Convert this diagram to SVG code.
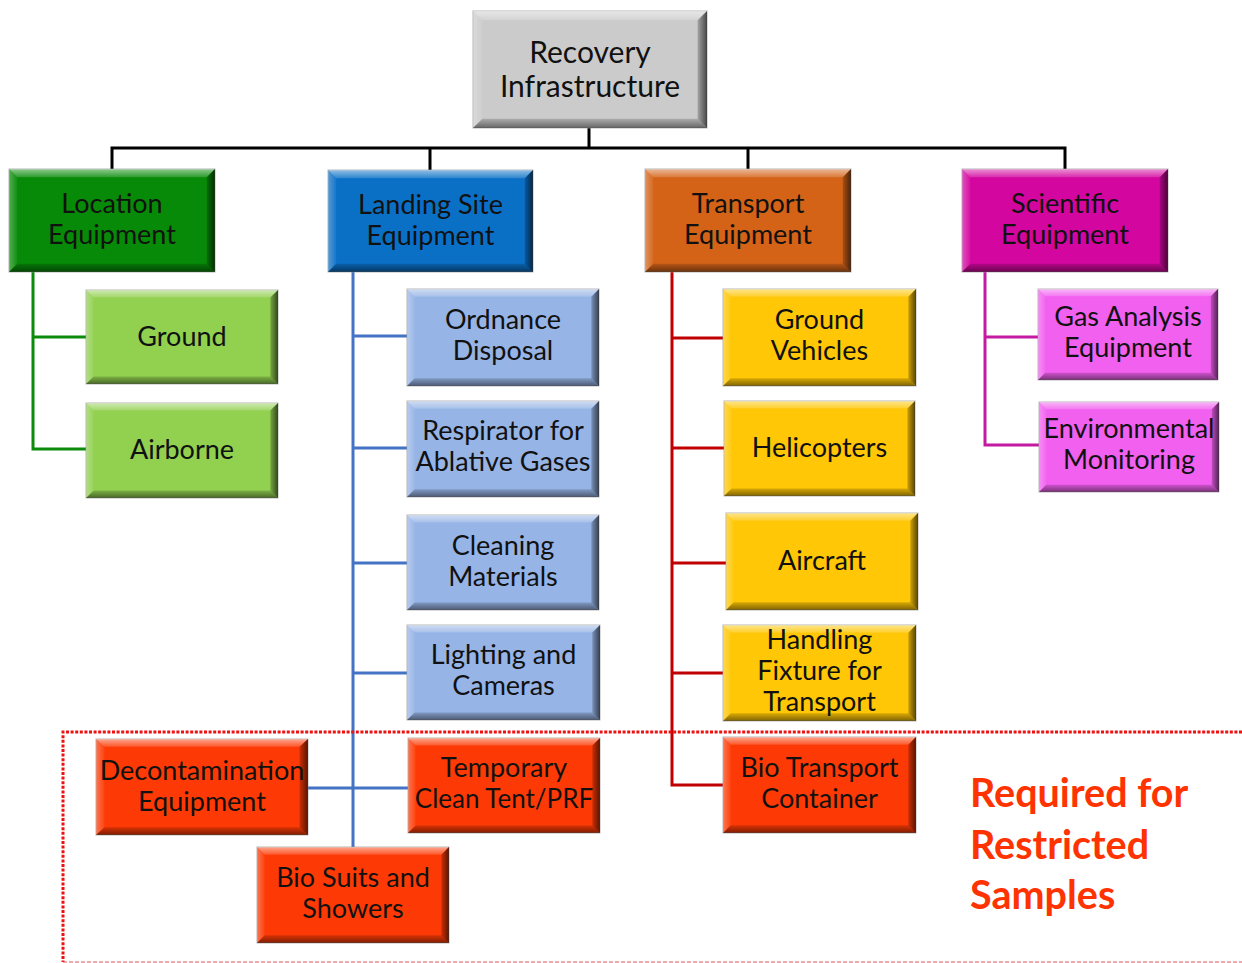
<svg xmlns="http://www.w3.org/2000/svg" xmlns:xlink="http://www.w3.org/1999/xlink" width="1242" height="963" viewBox="0 0 1242 963">
  <style>
    .t { font-family: Lato, "Liberation Sans", sans-serif; font-size: 27px; fill: #111; text-anchor: middle; }
    .rt { font-size: 30px; }
    .base { stroke: #9a9a9a; stroke-width: 1; stroke-opacity: 0.7; }
    .link { fill: none; stroke-width: 3; stroke-linecap: square; }
    .k { stroke: #000; }
    .g { stroke: #0b8a0b; }
    .b { stroke: #4472c4; }
    .r { stroke: #c00000; }
    .m { stroke: #c41aa2; }
    .note { font-family: Lato, "Liberation Sans", sans-serif; font-weight: bold; font-size: 39.5px; fill: #ff3300; }
  </style>
  <defs>
    <linearGradient id="topBand" x1="0" y1="0" x2="0" y2="1">
      <stop offset="0" stop-color="#fff" stop-opacity="0.55"/>
      <stop offset="1" stop-color="#fff" stop-opacity="0.15"/>
    </linearGradient>
    <linearGradient id="leftBand" x1="0" y1="0" x2="1" y2="0">
      <stop offset="0" stop-color="#fff" stop-opacity="0.3"/>
      <stop offset="1" stop-color="#fff" stop-opacity="0.05"/>
    </linearGradient>
    <linearGradient id="rightBand" x1="0" y1="0" x2="1" y2="0">
      <stop offset="0" stop-color="#000" stop-opacity="0.2"/>
      <stop offset="1" stop-color="#000" stop-opacity="0.65"/>
    </linearGradient>
    <linearGradient id="bottomBand" x1="0" y1="0" x2="0" y2="1">
      <stop offset="0" stop-color="#000" stop-opacity="0.15"/>
      <stop offset="1" stop-color="#000" stop-opacity="0.5"/>
    </linearGradient>
    <!-- bevel overlay, stretched over each box -->
    <symbol id="bevel" viewBox="0 0 200 100" preserveAspectRatio="none">
      <polygon points="0,0 200,0 192,8 8,8" fill="url(#topBand)"/>
      <polygon points="0,0 8,8 8,92 0,100" fill="url(#leftBand)"/>
      <polygon points="200,0 200,100 192,92 192,8" fill="url(#rightBand)"/>
      <polygon points="0,100 8,92 192,92 200,100" fill="url(#bottomBand)"/>
    </symbol>
  </defs>

  <rect width="1242" height="963" fill="#fff"/>

  <!-- connectors -->
  <g id="connectors">
    <path class="link k" d="M589,128 V148 M112,148 H1065 M112,148 V169 M430,148 V170 M748,148 V169 M1065,148 V169"/>
    <path class="link g" d="M33,272 V449 H86 M33,337 H86"/>
    <path class="link b" d="M353,272 V847 M353,336 H407 M353,448 H407 M353,563 H407 M353,673 H407 M308,788 H408"/>
    <path class="link r" d="M672,272 V785 H723 M672,338 H723 M672,448 H724 M672,563 H726 M672,673 H723"/>
    <path class="link m" d="M985,272 V445 H1039 M985,337 H1038"/>
  </g>

  <!-- restricted-samples zone -->
  <g id="restricted-zone">
    <path d="M1242,732 H63 V962" fill="none" stroke="#ee1111" stroke-width="3" stroke-dasharray="3 1.6"/>
    <path d="M63,962 H1242" fill="none" stroke="#d04848" stroke-width="1.5" stroke-opacity="0.6" stroke-dasharray="4 2"/>
    <text class="note" x="970" y="807">Required for</text>
    <text class="note" x="970" y="859">Restricted</text>
    <text class="note" x="970" y="909">Samples</text>
  </g>

  <!-- root -->
  <g id="recovery-infrastructure">
    <rect class="base" x="473" y="11" width="234" height="117" fill="#cbcbcb"/>
    <use xlink:href="#bevel" x="473" y="11" width="234" height="117"/>
    <text class="t rt" x="590" y="63">Recovery</text>
    <text class="t rt" x="590" y="97">Infrastructure</text>
  </g>

  <!-- first level -->
  <g id="location-equipment">
    <rect class="base" x="9" y="169" width="206" height="103" fill="#078a07"/>
    <use xlink:href="#bevel" x="9" y="169" width="206" height="103"/>
    <text class="t" x="112" y="213">Location</text>
    <text class="t" x="112" y="244">Equipment</text>
  </g>
  <g id="landing-site-equipment">
    <rect class="base" x="328" y="170" width="205" height="102" fill="#0a70c6"/>
    <use xlink:href="#bevel" x="328" y="170" width="205" height="102"/>
    <text class="t" x="430.5" y="214">Landing Site</text>
    <text class="t" x="430.5" y="245">Equipment</text>
  </g>
  <g id="transport-equipment">
    <rect class="base" x="645" y="169" width="206" height="103" fill="#d46318"/>
    <use xlink:href="#bevel" x="645" y="169" width="206" height="103"/>
    <text class="t" x="748" y="213">Transport</text>
    <text class="t" x="748" y="244">Equipment</text>
  </g>
  <g id="scientific-equipment">
    <rect class="base" x="962" y="169" width="206" height="103" fill="#d3069f"/>
    <use xlink:href="#bevel" x="962" y="169" width="206" height="103"/>
    <text class="t" x="1065" y="213">Scientific</text>
    <text class="t" x="1065" y="244">Equipment</text>
  </g>

  <!-- location equipment -->
  <g id="ground">
    <rect class="base" x="86" y="290" width="192" height="94" fill="#92d050"/>
    <use xlink:href="#bevel" x="86" y="290" width="192" height="94"/>
    <text class="t" x="182" y="346">Ground</text>
  </g>
  <g id="airborne">
    <rect class="base" x="86" y="403" width="192" height="95" fill="#92d050"/>
    <use xlink:href="#bevel" x="86" y="403" width="192" height="95"/>
    <text class="t" x="182" y="459">Airborne</text>
  </g>

  <!-- landing site equipment -->
  <g id="ordnance-disposal">
    <rect class="base" x="407" y="289" width="192" height="97" fill="#97b4e6"/>
    <use xlink:href="#bevel" x="407" y="289" width="192" height="97"/>
    <text class="t" x="503" y="329">Ordnance</text>
    <text class="t" x="503" y="360">Disposal</text>
  </g>
  <g id="respirator">
    <rect class="base" x="407" y="401" width="192" height="96" fill="#97b4e6"/>
    <use xlink:href="#bevel" x="407" y="401" width="192" height="96"/>
    <text class="t" x="503" y="440">Respirator for</text>
    <text class="t" x="503" y="471">Ablative Gases</text>
  </g>
  <g id="cleaning-materials">
    <rect class="base" x="407" y="515" width="192" height="95" fill="#97b4e6"/>
    <use xlink:href="#bevel" x="407" y="515" width="192" height="95"/>
    <text class="t" x="503" y="555">Cleaning</text>
    <text class="t" x="503" y="586">Materials</text>
  </g>
  <g id="lighting-cameras">
    <rect class="base" x="407" y="625" width="193" height="95" fill="#97b4e6"/>
    <use xlink:href="#bevel" x="407" y="625" width="193" height="95"/>
    <text class="t" x="503.5" y="664">Lighting and</text>
    <text class="t" x="503.5" y="695">Cameras</text>
  </g>
  <g id="temporary-clean-tent">
    <rect class="base" x="408" y="738" width="192" height="95" fill="#fd3a05"/>
    <use xlink:href="#bevel" x="408" y="738" width="192" height="95"/>
    <text class="t" x="504" y="777">Temporary</text>
    <text class="t" x="504" y="808" style="font-size:26px">Clean Tent/PRF</text>
  </g>
  <g id="decontamination-equipment">
    <rect class="base" x="96" y="739" width="212" height="96" fill="#fd3a05"/>
    <use xlink:href="#bevel" x="96" y="739" width="212" height="96"/>
    <text class="t" x="202" y="780">Decontamination</text>
    <text class="t" x="202" y="811">Equipment</text>
  </g>
  <g id="bio-suits">
    <rect class="base" x="257" y="847" width="192" height="96" fill="#fd3a05"/>
    <use xlink:href="#bevel" x="257" y="847" width="192" height="96"/>
    <text class="t" x="353" y="887">Bio Suits and</text>
    <text class="t" x="353" y="918">Showers</text>
  </g>

  <!-- transport equipment -->
  <g id="ground-vehicles">
    <rect class="base" x="723" y="289" width="193" height="97" fill="#ffc705"/>
    <use xlink:href="#bevel" x="723" y="289" width="193" height="97"/>
    <text class="t" x="819.5" y="329">Ground</text>
    <text class="t" x="819.5" y="360">Vehicles</text>
  </g>
  <g id="helicopters">
    <rect class="base" x="724" y="401" width="191" height="95" fill="#ffc705"/>
    <use xlink:href="#bevel" x="724" y="401" width="191" height="95"/>
    <text class="t" x="819.5" y="457">Helicopters</text>
  </g>
  <g id="aircraft">
    <rect class="base" x="726" y="513" width="192" height="97" fill="#ffc705"/>
    <use xlink:href="#bevel" x="726" y="513" width="192" height="97"/>
    <text class="t" x="822" y="570">Aircraft</text>
  </g>
  <g id="handling-fixture">
    <rect class="base" x="723" y="625" width="193" height="96" fill="#ffc705"/>
    <use xlink:href="#bevel" x="723" y="625" width="193" height="96"/>
    <text class="t" x="819.5" y="649">Handling</text>
    <text class="t" x="819.5" y="680">Fixture for</text>
    <text class="t" x="819.5" y="711">Transport</text>
  </g>
  <g id="bio-transport-container">
    <rect class="base" x="723" y="737" width="193" height="96" fill="#fd3a05"/>
    <use xlink:href="#bevel" x="723" y="737" width="193" height="96"/>
    <text class="t" x="819.5" y="777">Bio Transport</text>
    <text class="t" x="819.5" y="808">Container</text>
  </g>

  <!-- scientific equipment -->
  <g id="gas-analysis">
    <rect class="base" x="1038" y="289" width="180" height="91" fill="#f260f0"/>
    <use xlink:href="#bevel" x="1038" y="289" width="180" height="91"/>
    <text class="t" x="1128" y="326">Gas Analysis</text>
    <text class="t" x="1128" y="357">Equipment</text>
  </g>
  <g id="environmental-monitoring">
    <rect class="base" x="1039" y="402" width="180" height="90" fill="#f260f0"/>
    <use xlink:href="#bevel" x="1039" y="402" width="180" height="90"/>
    <text class="t" x="1129" y="438">Environmental</text>
    <text class="t" x="1129" y="469">Monitoring</text>
  </g>
</svg>
